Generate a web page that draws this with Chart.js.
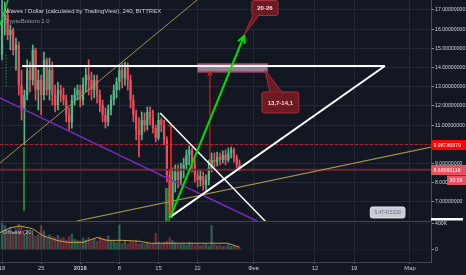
<!DOCTYPE html>
<html>
<head>
<meta charset="utf-8">
<script src="https://cdn.jsdelivr.net/npm/chart.js@4.4.1/dist/chart.umd.min.js"></script>
<style>
  html, body { margin: 0; padding: 0; background: #131722; }
  #wrap { position: relative; width: 466px; height: 275px; overflow: hidden; background: #131722; }
  #main { position: absolute; left: 0; top: 0; }
  #vol { position: absolute; left: 0; top: 221px; }
</style>
</head>
<body>
<div id="wrap">
  <canvas id="main" width="466" height="221"></canvas>
  <canvas id="vol" width="466" height="54"></canvas>
</div>
<script>
// WAVES/USD, Bittrex. day 0 = 18 Dec 2017, one candle per 12h.
const dayTicks = [0, 7, 14, 21, 28, 35, 45, 56, 63, 73];
const dayLabels = ["18", "25", "2018", "8", "15", "22", "Фев", "12", "19", "Мар"];
const priceTicks = [7, 8, 9, 10, 11, 12, 13, 14, 15, 16, 17];

const candleDays = Array.from({ length: 86 }, (_, i) => i * 0.5);
const firstOpen = 14.66;
const closes = [16.48,16.74,15.70,15.96,14.92,15.18,13.09,11.79,12.57,13.87,
  13.35,14.92,12.83,13.35,12.57,14.40,12.83,13.87,12.57,12.05,
  12.83,12.57,12.31,11.53,11.17,12.31,12.57,12.83,12.31,13.09,
  13.61,13.35,12.83,13.35,12.57,12.05,11.53,11.17,11.79,12.31,
  12.83,13.25,13.87,13.46,13.98,13.35,12.31,11.53,10.75,10.49,
  11.27,11.01,11.69,11.38,10.85,10.33,11.27,11.01,10.23,8.41,
  6.84,8.15,8.56,8.15,8.67,8.93,9.45,9.71,8.93,8.41,
  8.15,8.35,7.89,8.15,8.77,9.19,9.08,9.34,9.19,9.45,
  9.19,9.55,9.71,9.29,8.93,8.68];
const highs = [17.52,17.42,17.10,16.22,16.06,15.54,15.33,13.87,12.83,14.40,
  14.29,15.18,15.02,13.87,13.61,14.81,14.50,14.50,14.29,13.09,
  13.25,13.09,12.94,12.57,11.90,12.57,12.94,13.09,13.09,13.46,
  13.98,14.40,13.77,13.61,13.61,12.83,12.31,11.90,12.05,12.57,
  13.09,13.46,14.14,14.24,14.29,14.24,13.61,12.57,11.79,11.38,
  11.69,11.64,11.95,11.95,11.79,11.01,11.64,11.38,11.27,10.39,
  8.67,8.77,8.93,8.93,9.03,9.29,9.71,9.92,9.81,9.19,
  8.67,8.67,8.56,8.41,9.19,9.55,9.55,9.60,9.55,9.66,
  9.71,9.81,9.86,9.81,9.45,9.19];
const lows = [14.40,15.70,15.44,14.92,14.66,13.87,12.57,11.27,9.97,12.31,
  12.73,13.09,12.31,11.79,11.53,12.31,12.57,12.31,12.05,11.69,
  11.79,12.21,12.05,11.17,10.75,10.85,12.05,12.31,11.95,12.05,
  12.73,12.57,12.31,12.42,12.16,11.69,11.17,10.85,10.96,11.53,
  12.05,12.42,12.83,12.94,13.09,12.83,11.90,11.17,10.23,9.34,
  10.23,10.65,10.75,11.01,10.59,10.13,10.23,10.65,9.97,8.04,
  6.22,6.32,7.52,7.73,7.89,8.25,8.67,8.93,8.56,8.04,
  7.78,7.83,7.62,7.62,7.89,8.56,8.82,8.87,8.93,9.03,
  8.93,9.08,9.29,9.08,8.77,8.61];
// volume, thousands
const volumes = [420,380,300,350,280,330,400,360,250,300,280,
  240,220,240,380,300,200,240,210,190,230,
  180,200,160,210,250,170,150,140,190,160,
  200,150,170,140,210,180,160,220,150,150,
  120,390,110,140,100,150,120,160,100,110,
  100,120,90,110,260,130,100,120,140,190,
  150,120,100,90,110,80,120,100,80,90,
  70,80,100,70,380,90,70,80,60,70,
  90,60,70,50,40];
const maDays = [-0.36,1.4,3.2,5.5,7.3,9.8,11.6,14.5,17,18.8,21.6,24.7,26.5,29.5,33.1,36.7,40.3,42.5];
const maVals = [267,340,370,326,222,148,118,118,192,148,148,133,104,104,104,104,104,44];

// hand drawings on the chart, [day, price]
const trendWhiteTop = [[3.6, 14.08], [68.5, 14.08]];
const trendWhiteUp = [[30.0, 6.2], [68.5, 14.08]];
const trendWhiteDown = [[28.3, 11.64], [47.1, 6.0]];
const trendPurple = [[-0.4, 12.42], [46, 5.95]];
const trendTan1 = [[-0.36, 9.03], [34.9, 17.52]];
const trendTan2 = [[13.4, 6.01], [76.8, 9.86]];
const arrowGreen = [[30.06, 6.17], [43.3, 15.65]];
const measureRed1 = [[30.24, 11.01], [30.24, 6.17]];
const measureRed2 = [[37.2, 8.77], [37.2, 13.8]];
const signalTop = [[-0.36, 16.22], [1.07, 17.52]];
const signalDots = [[0.72, 14.66], [0.72, 12.94]];
const signalLow = [[3.94, 9.86], [3.94, 6.53]];
const zone = { d0: 34.9, d1: 47.6, p0: 13.75, p1: 14.22 };
const markPrice = 9.98786879, lastPrice = 8.68069116, lowMark = 5.47415329;

const X0 = -0.36, X1 = 76.76, P0 = 6.01, P1 = 17.52;
const UP = "#53b987", DN = "#eb4d5c", GRID = "#252937";

Chart.defaults.font.family = '"Liberation Sans", Arial, sans-serif';
Chart.defaults.animation = false;

const opens = [firstOpen].concat(closes.slice(0, -1));
const candleCol = closes.map((c, i) => c >= opens[i] ? UP : DN);
const volCol = closes.map((c, i) => c >= opens[i] ? "rgba(83,185,135,0.42)" : "rgba(235,77,92,0.42)");
const pts = a => a.map(([x, y]) => ({ x, y }));
const seg = (a, color, w, extra) => Object.assign({ type: "line", data: pts(a), borderColor: color,
  borderWidth: w, pointRadius: 0, order: 2 }, extra || {});

function arrowHead(ctx, x1, y1, x2, y2, len, color, w) {
  const a = Math.atan2(y2 - y1, x2 - x1);
  ctx.strokeStyle = color; ctx.lineWidth = w;
  ctx.beginPath();
  ctx.moveTo(x2 - len * Math.cos(a - 0.45), y2 - len * Math.sin(a - 0.45));
  ctx.lineTo(x2, y2);
  ctx.lineTo(x2 - len * Math.cos(a + 0.45), y2 - len * Math.sin(a + 0.45));
  ctx.stroke();
}

function callout(ctx, bx, by, bw, bh, b1, b2, tx, ty, text) {
  const above = ty < by;
  const ey = above ? by : by + bh;
  ctx.beginPath();
  ctx.roundRect(bx, by, bw, bh, 2);
  ctx.moveTo(bx + b1, ey); ctx.lineTo(tx, ty); ctx.lineTo(bx + b2, ey);
  ctx.fillStyle = "#6e1a22"; ctx.fill();
  ctx.strokeStyle = "#a3313b"; ctx.lineWidth = 1; ctx.stroke();
  ctx.beginPath();
  ctx.moveTo(bx + b1 + 1, ey); ctx.lineTo(bx + b2 - 1, ey);
  ctx.strokeStyle = "#6e1a22"; ctx.stroke();
  ctx.fillStyle = "#f2dede"; ctx.font = "bold 6px " + Chart.defaults.font.family;
  ctx.textAlign = "center"; ctx.textBaseline = "middle";
  ctx.fillText(text, bx + bw / 2, by + bh / 2 + 0.5);
}

function tag(ctx, x, y, w, h, fill, text, color) {
  ctx.fillStyle = fill; ctx.fillRect(x, y, w, h);
  ctx.fillStyle = color; ctx.font = "5.2px " + Chart.defaults.font.family;
  ctx.textAlign = "left"; ctx.textBaseline = "middle";
  ctx.fillText(text, x + 2.5, y + h / 2 + 0.5);
}

const mainOverlay = {
  id: "mainOverlay",
  beforeDatasetsDraw(chart) {
    const { ctx, scales: { x, y } } = chart;
    ctx.save();
    const zx = x.getPixelForValue(zone.d0), zw = x.getPixelForValue(zone.d1) - zx;
    const zy = y.getPixelForValue(zone.p1), zh = y.getPixelForValue(zone.p0) - zy;
    ctx.fillStyle = "rgba(200,170,195,0.7)"; ctx.fillRect(zx, zy, zw, zh);
    ctx.strokeStyle = "#c0283a"; ctx.lineWidth = 1; ctx.strokeRect(zx + 0.5, zy + 0.5, zw - 1, zh - 1);
    // CryptoBottom signal column
    const gx = x.getPixelForValue(29.2), gw = x.getPixelForValue(30.1) - gx;
    const gy = y.getPixelForValue(7.73);
    ctx.fillStyle = "#1f6e2c"; ctx.fillRect(gx, gy, gw, chart.chartArea.bottom - gy);
    ctx.fillStyle = "#2f9a3e"; ctx.fillRect(gx, gy, 1.5, chart.chartArea.bottom - gy);
    ctx.restore();
  },
  afterDatasetsDraw(chart) {
    const { ctx, scales: { x, y } } = chart;
    const X = d => x.getPixelForValue(d), Y = p => y.getPixelForValue(p);
    ctx.save();
    arrowHead(ctx, X(arrowGreen[0][0]), Y(arrowGreen[0][1]), X(arrowGreen[1][0]), Y(arrowGreen[1][1]), 8, "#00e000", 2);
    arrowHead(ctx, X(measureRed2[0][0]), Y(measureRed2[0][1]), X(measureRed2[1][0]), Y(measureRed2[1][1]), 5, "#ff1a1a", 1);
    ctx.strokeStyle = "#ff1a1a"; ctx.lineWidth = 1; ctx.beginPath();
    ctx.moveTo(X(29.6), Y(11.01) + 0.5); ctx.lineTo(X(30.24), Y(11.01) + 0.5); ctx.stroke();
    // callouts
    const tip = [X(arrowGreen[1][0]), Y(arrowGreen[1][1])];
    callout(ctx, X(44.7), Y(17.52) + 0.5, X(49.4) - X(44.7), Y(16.74) - Y(17.52), 1, 7, tip[0], tip[1] - 1, "20-26");
    callout(ctx, X(46.5), Y(12.73), X(53.1) - X(46.5), Y(11.64) - Y(12.73), 8, 20, X(47.06), Y(13.87), "13,7-14,1");
    // floating low-price label
    const lx = X(65.9), ly = Y(6.74), lw = X(72.1) - lx, lh = Y(6.17) - ly;
    ctx.beginPath(); ctx.roundRect(lx, ly, lw, lh, 2);
    ctx.fillStyle = "#c9ccd3"; ctx.fill(); ctx.strokeStyle = "#e3e5ea"; ctx.stroke();
    ctx.fillStyle = "#66708a"; ctx.font = "5px " + Chart.defaults.font.family;
    ctx.textAlign = "center"; ctx.textBaseline = "middle";
    ctx.fillText(lowMark.toFixed(8), lx + lw / 2, ly + lh / 2 + 0.5);
    ctx.restore();
  },
  afterDraw(chart) {
    const { ctx, chartArea: a, scales: { y } } = chart;
    ctx.save();
    const r = a.right;
    tag(ctx, r, Math.round(y.getPixelForValue(markPrice)) - 5, 466 - r, 10, "#ff0000", markPrice.toFixed(8), "#ffffff");
    const ly = Math.round(y.getPixelForValue(lastPrice));
    tag(ctx, r, ly - 5, 466 - r, 10, "#e8505d", lastPrice.toFixed(8), "#ffffff");
    tag(ctx, 447, ly + 5.5, 19, 9.5, "#e8505d", "30:59", "#ffffff");
    ctx.fillStyle = "#ffffff"; ctx.fillRect(r, 218, 32, 2.5);
    ctx.textAlign = "left"; ctx.textBaseline = "alphabetic";
    ctx.font = "6px " + Chart.defaults.font.family;
    ctx.fillStyle = "#d1d4dc";
    ctx.fillText("Waves / Dollar (calculated by TradingView), 240, BITTREX", 5, 12.5);
    ctx.fillStyle = "#9a9ea8";
    ctx.fillText("CryptoBottom 1.0", 3, 23);
    ctx.restore();
  }
};

new Chart(document.getElementById("main"), {
  type: "bar",
  data: {
    datasets: [
      seg(trendWhiteTop, "#ffffff", 2, { order: 1 }),
      seg(trendWhiteUp, "#ffffff", 2, { order: 1 }),
      seg(trendWhiteDown, "#ffffff", 1.5, { order: 1 }),
      seg(arrowGreen, "#00e000", 2, { order: 0 }),
      seg(measureRed1, "#ff1a1a", 1),
      seg(measureRed2, "#ff1a1a", 1),
      seg(trendPurple, "#7b2cbf", 1.5, { order: 3 }),
      seg(trendTan1, "#a8904e", 1, { order: 3 }),
      seg(trendTan2, "#a8904e", 1.2, { order: 3 }),
      seg(signalTop, "#1fc23a", 1.5),
      seg(signalDots, "#2a9d45", 1, { borderDash: [1.5, 1.5] }),
      seg(signalLow, "#2e8b3e", 1),
      seg([[X0, markPrice], [X1, markPrice]], "#c21f2a", 1, { borderDash: [3, 2], order: 4 }),
      seg([[X0, lastPrice], [X1, lastPrice]], "rgba(120,38,52,0.95)", 2, { order: 4 }),
      { label: "wicks", data: candleDays.map((d, i) => ({ x: d, y: [lows[i], highs[i]] })),
        backgroundColor: candleCol, barThickness: 1, grouped: false, order: 21 },
      { label: "bodies", data: candleDays.map((d, i) => ({ x: d, y: [opens[i], closes[i]] })),
        backgroundColor: candleCol, barPercentage: 0.8, categoryPercentage: 1, grouped: false,
        minBarLength: 1, order: 20 }
    ]
  },
  options: {
    responsive: false,
    layout: { padding: 0 },
    events: [],
    plugins: { legend: { display: false }, tooltip: { enabled: false } },
    scales: {
      x: { type: "linear", min: X0, max: X1, offset: false,
        grid: { color: GRID, offset: false, drawTicks: false }, border: { display: false },
        ticks: { display: false },
        afterBuildTicks: s => { s.ticks = dayTicks.map(v => ({ value: v })); },
        afterFit: s => { s.height = 0; s.paddingLeft = 0; s.paddingRight = 0; } },
      y: { position: "right", min: P0, max: P1,
        grid: { color: GRID, tickLength: 3, tickColor: "#8c909a" }, border: { color: "#4a4e59" },
        ticks: { color: "#d1d4dc", font: { size: 5.2 }, padding: 1, callback: v => v.toFixed(8) },
        afterBuildTicks: s => { s.ticks = priceTicks.map(v => ({ value: v })); },
        afterFit: s => { s.width = 35; s.paddingTop = 0; s.paddingBottom = 0; } }
    }
  },
  plugins: [mainOverlay]
});

const volOverlay = {
  id: "volOverlay",
  afterDraw(chart) {
    const { ctx, chartArea: a } = chart;
    ctx.save();
    ctx.strokeStyle = "#434651"; ctx.lineWidth = 1;
    ctx.beginPath(); ctx.moveTo(0, 0.5); ctx.lineTo(a.right, 0.5); ctx.stroke();
    ctx.fillStyle = "#c0c3cc"; ctx.font = "5.8px " + Chart.defaults.font.family;
    ctx.textAlign = "left"; ctx.textBaseline = "alphabetic";
    ctx.fillText("Объем (20)", 3, 13);
    ctx.restore();
  }
};

new Chart(document.getElementById("vol"), {
  type: "bar",
  data: {
    datasets: [
      { type: "line", data: maDays.map((d, i) => ({ x: d, y: maVals[i] })), borderColor: "#c9a04e",
        borderWidth: 1, pointRadius: 0, order: 1 },
      { data: candleDays.map((d, i) => ({ x: d, y: volumes[i] })), backgroundColor: volCol,
        barPercentage: 1, categoryPercentage: 0.85, grouped: false, order: 2 }
    ]
  },
  options: {
    responsive: false,
    layout: { padding: 0 },
    events: [],
    plugins: { legend: { display: false }, tooltip: { enabled: false } },
    scales: {
      x: { type: "linear", min: X0, max: X1, offset: false,
        grid: { color: GRID, offset: false, tickLength: 2, tickColor: "#5d606b" }, border: { color: "#434651" },
        ticks: { color: "#c5c8d0", padding: 1, maxRotation: 0, autoSkip: false,
          font: c => ({ size: 5.8, weight: c.tick && c.tick.label === "2018" ? "bold" : "normal" }),
          callback: (v, i) => dayLabels[i] },
        afterBuildTicks: s => { s.ticks = dayTicks.map(v => ({ value: v })); },
        afterFit: s => { s.height = 13; s.paddingLeft = 0; s.paddingRight = 0; } },
      y: { position: "right", min: -185, max: 446,
        grid: { color: "#1b1f2a", tickLength: 3, tickColor: "#8c909a" }, border: { color: "#4a4e59" },
        ticks: { color: "#d1d4dc", font: { size: 5.2 }, padding: 1, callback: v => v === 0 ? "0" : v + "K" },
        afterBuildTicks: s => { s.ticks = [{ value: 0 }, { value: 400 }]; },
        afterFit: s => { s.width = 35; s.paddingTop = 0; s.paddingBottom = 0; } }
    }
  },
  plugins: [volOverlay]
});
</script>
</body>
</html>
